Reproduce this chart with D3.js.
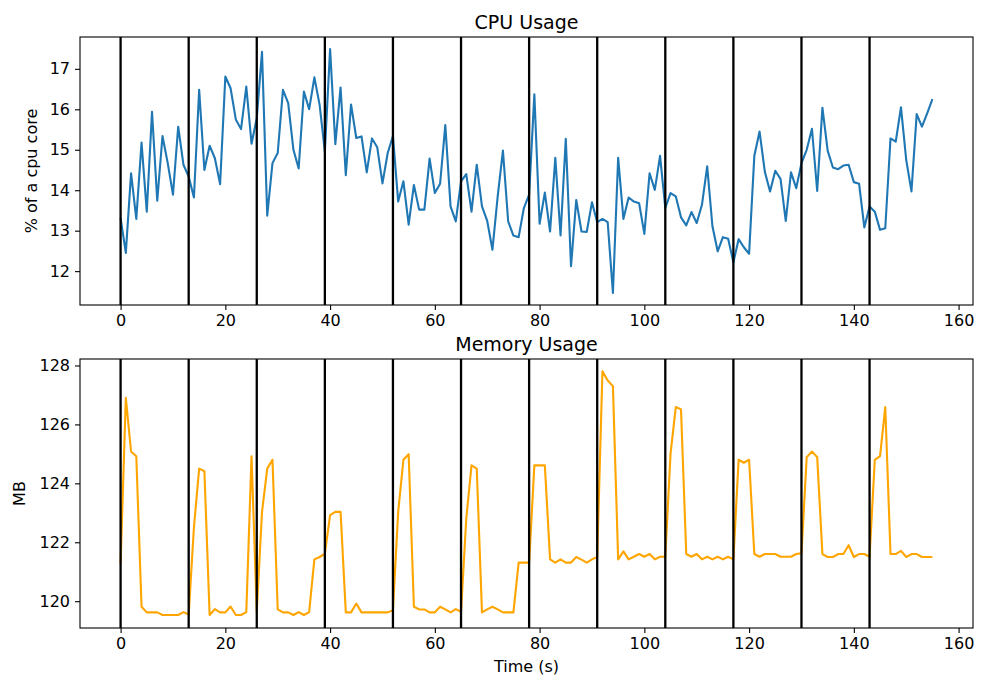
<!DOCTYPE html>
<html lang="en">
<head>
<meta charset="UTF-8">
<title>CPU and Memory Usage</title>
<script src="https://cdnjs.cloudflare.com/ajax/libs/d3/7.8.5/d3.min.js"></script>
<style>
    body { margin: 0; background: #fff; }
    svg text { font-family: "DejaVu Sans", sans-serif; fill: #000; }
    .axis path, .axis line { stroke: #000; stroke-width: 1.1px; }
</style>
</head>
<body>
<div id="chart"></div>
<script>

    // Data, one value per second
    var cpuValues = [
        13.31, 12.45, 14.42, 13.29, 15.18, 13.47, 15.94, 13.74, 15.34, 14.67,
        13.89, 15.57, 14.63, 14.34, 13.82, 16.48, 14.50, 15.10, 14.79, 14.15,
        16.81, 16.52, 15.75, 15.51, 16.56, 15.15, 15.78, 17.42, 13.37, 14.67,
        14.92, 16.48, 16.15, 15.00, 14.54, 16.44, 16.00, 16.79, 16.11, 14.96,
        17.49, 15.14, 16.54, 14.37, 16.12, 15.29, 15.33, 14.44, 15.28, 15.06,
        14.17, 14.92, 15.34, 13.72, 14.22, 13.15, 14.13, 13.52, 13.52, 14.78,
        13.93, 14.16, 15.61, 13.60, 13.23, 14.22, 14.40, 13.47, 14.63, 13.60,
        13.24, 12.53, 13.85, 14.98, 13.23, 12.88, 12.84, 13.56, 13.89, 16.37,
        13.17, 13.94, 12.98, 14.80, 12.88, 15.27, 12.12, 13.76, 12.98, 12.97,
        13.70, 13.21, 13.29, 13.21, 11.46, 14.80, 13.29, 13.82, 13.72, 13.68,
        12.92, 14.42, 14.01, 14.85, 13.56, 13.93, 13.85, 13.33, 13.13, 13.46,
        13.19, 13.64, 14.59, 13.11, 12.49, 12.84, 12.80, 12.22, 12.79, 12.59,
        12.43, 14.85, 15.45, 14.46, 13.97, 14.48, 14.28, 13.24, 14.44, 14.05,
        14.67, 15.00, 15.52, 13.98, 16.04, 14.98, 14.56, 14.52, 14.61, 14.63,
        14.20, 14.16, 13.08, 13.60, 13.47, 13.02, 13.06, 15.28, 15.20, 16.05,
        14.75, 13.97, 15.88, 15.57, 15.90, 16.25
    ];

    var memValues = [
        121.28, 126.90, 125.08, 124.92, 119.81, 119.62, 119.62, 119.62, 119.53, 119.53,
        119.53, 119.53, 119.63, 119.55, 122.50, 124.50, 124.41, 119.53, 119.73, 119.62,
        119.62, 119.82, 119.53, 119.53, 119.63, 124.92, 119.64, 123.03, 124.50, 124.80,
        119.72, 119.62, 119.62, 119.53, 119.63, 119.53, 119.63, 121.42, 121.50, 121.61,
        122.92, 123.03, 123.03, 119.62, 119.62, 119.92, 119.62, 119.62, 119.62, 119.62,
        119.62, 119.62, 119.69, 123.03, 124.80, 124.99, 119.81, 119.72, 119.72, 119.62,
        119.62, 119.81, 119.72, 119.62, 119.73, 119.64, 122.80, 124.61, 124.50, 119.62,
        119.72, 119.81, 119.72, 119.62, 119.62, 119.62, 121.31, 121.31, 121.31, 124.61,
        124.61, 124.61, 121.42, 121.31, 121.42, 121.31, 121.31, 121.50, 121.41, 121.31,
        121.42, 121.50, 127.80, 127.49, 127.30, 121.42, 121.69, 121.42, 121.51, 121.60,
        121.51, 121.60, 121.42, 121.51, 121.51, 125.00, 126.59, 126.51, 121.60, 121.51,
        121.60, 121.42, 121.51, 121.42, 121.51, 121.42, 121.51, 121.42, 124.80, 124.70,
        124.80, 121.60, 121.51, 121.60, 121.60, 121.60, 121.51, 121.51, 121.51, 121.60,
        121.63, 124.89, 125.08, 124.89, 121.60, 121.50, 121.50, 121.60, 121.60, 121.90,
        121.50, 121.60, 121.60, 121.51, 124.80, 124.92, 126.59, 121.60, 121.60, 121.71,
        121.50, 121.60, 121.60, 121.50, 121.50, 121.50
    ];

    // Black markers every 13 seconds
    var markerTimes = [0, 13, 26, 39, 52, 65, 78, 91, 104, 117, 130, 143];

    var xTicks = [0, 20, 40, 60, 80, 100, 120, 140, 160];
    var cpuTicks = [12, 13, 14, 15, 16, 17];
    var memTicks = [120, 122, 124, 126, 128];

    // Size variables
    var w = 981;
    var h = 685;
    var left = 80;
    var right = 973;

    var svg = d3.select("#chart")
        .append("svg")
        .attr("width", w)
        .attr("height", h);

    var xScale = d3.scaleLinear()
        .domain([-7.75, 162.75])
        .range([left, right]);

    function drawPanel(opts) {
        var yScale = d3.scaleLinear()
            .domain(opts.domain)
            .range([opts.bottom, opts.top]);

        var g = svg.append("g");

        g.append("clipPath")
            .attr("id", opts.id)
            .append("rect")
            .attr("x", left)
            .attr("y", opts.top)
            .attr("width", right - left)
            .attr("height", opts.bottom - opts.top);

        var line = d3.line()
            .x(function(d, i) { return xScale(i); })
            .y(function(d) { return yScale(d); });

        g.append("path")
            .datum(opts.values)
            .attr("clip-path", "url(#" + opts.id + ")")
            .attr("fill", "none")
            .attr("stroke", opts.color)
            .attr("stroke-width", 2.1)
            .attr("stroke-linejoin", "round")
            .attr("d", line);

        g.selectAll("line.marker")
            .data(markerTimes)
            .enter()
            .append("line")
            .attr("class", "marker")
            .attr("x1", function(d) { return xScale(d); })
            .attr("x2", function(d) { return xScale(d); })
            .attr("y1", opts.top)
            .attr("y2", opts.bottom)
            .attr("stroke", "#000")
            .attr("stroke-width", 2.3);

        var xAxis = d3.axisBottom(xScale)
            .tickValues(xTicks)
            .tickFormat(d3.format("d"))
            .tickSize(5)
            .tickPadding(5)
            .tickSizeOuter(0);

        var yAxis = d3.axisLeft(yScale)
            .tickValues(opts.ticks)
            .tickFormat(d3.format("d"))
            .tickSize(5)
            .tickPadding(5)
            .tickSizeOuter(0);

        var gx = g.append("g")
            .attr("class", "axis")
            .attr("transform", "translate(0," + opts.bottom + ")")
            .call(xAxis);

        var gy = g.append("g")
            .attr("class", "axis")
            .attr("transform", "translate(" + left + ",0)")
            .call(yAxis);

        gx.select(".domain").remove();
        gy.select(".domain").remove();
        g.selectAll(".axis text").attr("font-size", "16px");

        // axes frame
        g.append("rect")
            .attr("x", left)
            .attr("y", opts.top)
            .attr("width", right - left)
            .attr("height", opts.bottom - opts.top)
            .attr("fill", "none")
            .attr("stroke", "#000")
            .attr("stroke-width", 1.1);

        g.append("text")
            .attr("x", (left + right) / 2)
            .attr("y", opts.top - 8)
            .attr("text-anchor", "middle")
            .attr("font-size", "19px")
            .text(opts.title);

        g.append("text")
            .attr("transform", "translate(" + opts.labelX + "," + ((opts.top + opts.bottom) / 2) + ") rotate(-90)")
            .attr("text-anchor", "middle")
            .attr("font-size", "16px")
            .text(opts.ylabel);
    }

    drawPanel({
        id: "clipCpu",
        values: cpuValues,
        domain: [11.163, 17.787],
        ticks: cpuTicks,
        top: 37,
        bottom: 305,
        color: "#1f77b4",
        title: "CPU Usage",
        ylabel: "% of a cpu core",
        labelX: 37
    });

    drawPanel({
        id: "clipMem",
        values: memValues,
        domain: [119.09, 128.22],
        ticks: memTicks,
        top: 359,
        bottom: 628,
        color: "#ffa500",
        title: "Memory Usage",
        ylabel: "MB",
        labelX: 25
    });

    svg.append("text")
        .attr("x", (left + right) / 2)
        .attr("y", 672)
        .attr("text-anchor", "middle")
        .attr("font-size", "16px")
        .text("Time (s)");

</script>
</body>
</html>
